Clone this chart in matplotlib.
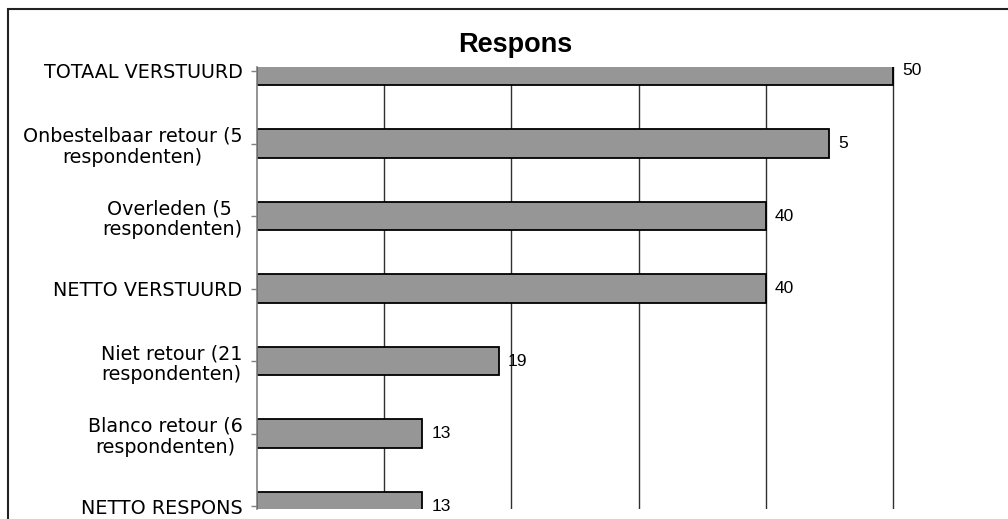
import matplotlib.pyplot as plt
from matplotlib.patches import Rectangle

# categorieën en waarden (van boven naar beneden)
categorieen = ['TOTAAL VERSTUURD',
               'Onbestelbaar retour (5\nrespondenten)',
               'Overleden (5 \nrespondenten)',
               'NETTO VERSTUURD',
               'Niet retour (21\nrespondenten)',
               'Blanco retour (6\nrespondenten)',
               'NETTO RESPONS']
waarden = [50, 45, 40, 40, 19, 13, 13]
labels = ['50', '5', '40', '40', '19', '13', '13']

W, H = 1008, 519
fig = plt.figure(figsize=(W / 100, H / 100), dpi=100)

# kader rond de grafiek (rechts en onder buiten beeld)
fig.add_artist(Rectangle((8 / W, -0.2), 1.2, 1.2 - 9 / H, transform=fig.transFigure,
                         fill=False, edgecolor='#222222', linewidth=1.5))

# plotgebied in pixels: links 257, boven 67, onder 509
ax = fig.add_axes([257 / W, (H - 509) / H, (W - 257) / W, (509 - 67) / H])

y = list(range(len(categorieen)))
ax.barh(y, waarden, height=0.39, color='#969696', edgecolor='black', linewidth=1.3, zorder=2)

for yi, v, lab in zip(y, waarden, labels):
    ax.annotate(lab, (v, yi), xytext=(6.5, 0), textcoords='offset points',
                va='center', ha='left', fontsize=12.5, family='Liberation Sans')

ax.set_xlim(0, (W - 257) / 12.72)
ax.set_ylim(6.04, -0.055)
ax.set_xticks([10, 20, 30, 40, 50])
ax.xaxis.grid(True, color='#303030', linewidth=1)
ax.set_axisbelow(True)
ax.tick_params(axis='x', length=0, labelbottom=False)

ax.set_yticks(y)
ax.set_yticklabels(categorieen, fontsize=13.8, family='DejaVu Sans',
                   multialignment='center', linespacing=1.15)
ax.tick_params(axis='y', length=4.5, width=1, color='#808080', pad=6)

for s in ['top', 'right', 'bottom']:
    ax.spines[s].set_visible(False)
ax.spines['left'].set_color('#808080')
ax.spines['left'].set_linewidth(1.2)

fig.text(515 / W, 1 - 45 / H, 'Respons', ha='center', va='center',
         fontsize=19.5, fontweight='bold', family='Liberation Sans')

fig.savefig('out.png', dpi=100)
